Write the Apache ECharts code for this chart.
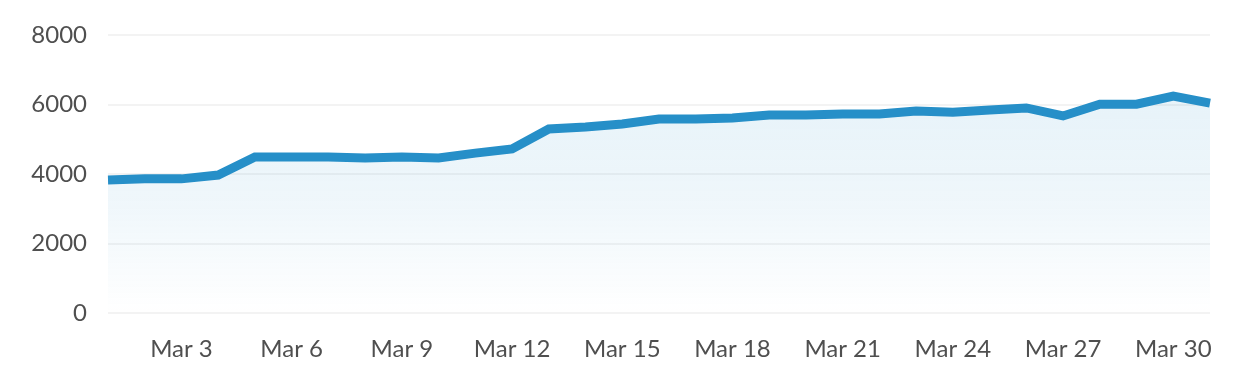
<!DOCTYPE html>
<html>
<head>
<meta charset="utf-8">
<script src="https://cdn.jsdelivr.net/npm/echarts@6/dist/echarts.min.js"></script>
<style>html,body{margin:0;padding:0;background:#fff}#c{width:1237px;height:383px}</style>
</head>
<body>
<div id="c"></div>
<script>
const categories = ['Mar 1','Mar 2','Mar 3','Mar 4','Mar 5','Mar 6','Mar 7','Mar 8','Mar 9','Mar 10','Mar 11','Mar 12','Mar 13','Mar 14','Mar 15','Mar 16','Mar 17','Mar 18','Mar 19','Mar 20','Mar 21','Mar 22','Mar 23','Mar 24','Mar 25','Mar 26','Mar 27','Mar 28','Mar 29','Mar 30','Mar 31'];
const values = [3830,3860,3860,3970,4490,4490,4490,4460,4490,4460,4600,4720,5295,5350,5440,5580,5580,5610,5700,5700,5730,5730,5810,5780,5840,5900,5670,6010,6010,6240,6040];
const yTicks = [0,2000,4000,6000,8000];

const chart = echarts.init(document.getElementById('c'), null, {renderer:'canvas'});
chart.setOption({
  animation:false,
  grid:{left:108,right:27,top:35,bottom:70,containLabel:false},
  xAxis:{
    type:'category', data:categories, boundaryGap:false,
    axisLine:{show:false}, axisTick:{show:false},
    axisLabel:{interval:(i)=>i%3===2, color:'#4f4f4f', fontFamily:'Lato', fontSize:24, margin:24}
  },
  yAxis:{
    type:'value', min:yTicks[0], max:yTicks[yTicks.length-1], interval:2000,
    axisLine:{show:false}, axisTick:{show:false},
    splitLine:{lineStyle:{color:'#f3f3f3',width:2}},
    axisLabel:{color:'#4f4f4f', fontFamily:'Lato', fontSize:24, margin:21, formatter:(v)=>String(v)}
  },
  series:[{
    type:'line', data:values, symbol:'none',
    lineStyle:{color:'#268fc8', width:9, cap:'butt', join:'miter'},
    areaStyle:{color:new echarts.graphic.LinearGradient(0,0,0,1,[
      {offset:0,color:'rgba(38,143,200,0.16)'},
      {offset:0.5,color:'rgba(38,143,200,0.10)'},
      {offset:0.85,color:'rgba(38,143,200,0.03)'},
      {offset:1,color:'rgba(38,143,200,0.0)'}
    ])}
  }]
});
</script>
</body>
</html>
